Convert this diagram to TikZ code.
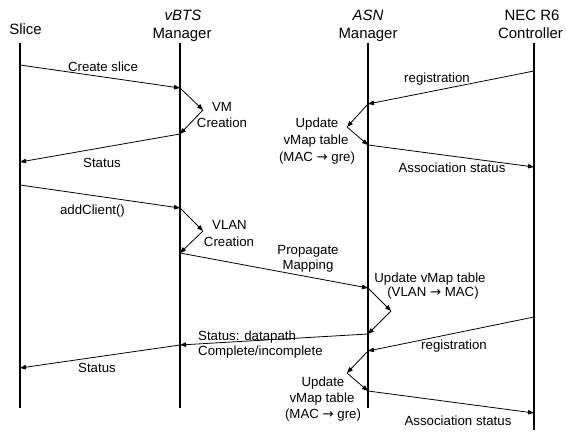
\documentclass[tikz,border=0pt]{standalone}
\usepackage{fontspec}
\setmainfont{Liberation Sans}
\newfontfamily\arrowfont{DejaVu Sans}
\usetikzlibrary{arrows.meta}
\newcommand{\toarr}{{\arrowfont\fontsize{13.3}{16}\selectfont →}}

\begin{document}
\begin{tikzpicture}[x=1bp,y=-1bp,
  lifeline/.style={line width=1.1bp},
  msg/.style={line width=0.8bp,-{Triangle[length=6bp,width=4.5bp]}},
  lbl/.style={anchor=base,inner sep=0pt,font=\fontsize{13.3}{16}\selectfont},
  lbll/.style={lbl,anchor=base west},
  hdr/.style={anchor=base,inner sep=0pt,font=\fontsize{15}{18}\selectfont}]
\useasboundingbox (0,0) rectangle (566,433);

% participants
\node[hdr] (hSlice) at (25.5,34.4) {Slice};
\node[hdr] (hVbts1) at (183,20.4) {\itshape vBTS};
\node[hdr] (hVbts2) at (182,38.4) {Manager};
\node[hdr] (hAsn1) at (368,20.4) {\itshape ASN};
\node[hdr] (hAsn2) at (368,38.4) {Manager};
\node[hdr] (hNec1) at (532,20.4) {NEC R6};
\node[hdr] (hNec2) at (530.5,38.4) {Controller};

% lifelines
\coordinate (sliceT) at (20,43);  \coordinate (sliceB) at (20,408);
\coordinate (vbtsT) at (180,43);  \coordinate (vbtsB) at (180,408);
\coordinate (asnT) at (368,43);   \coordinate (asnB) at (368,408);
\coordinate (necT) at (534,43);   \coordinate (necB) at (534,430);
\draw[lifeline] (sliceT) -- (sliceB);
\draw[lifeline] (vbtsT) -- (vbtsB);
\draw[lifeline] (asnT) -- (asnB);
\draw[lifeline] (necT) -- (necB);

% message end points
\coordinate (s1) at (20,65);   \coordinate (v1) at (180,88);
\coordinate (vm) at (203,110); \coordinate (v2) at (180,134);
\coordinate (s2) at (20,162);
\coordinate (s3) at (20,185);  \coordinate (v3) at (180,208);
\coordinate (vl) at (203,231); \coordinate (v4) at (180,253);
\coordinate (a1) at (368,288); \coordinate (um) at (391,311);
\coordinate (a2) at (368,334); \coordinate (v5) at (180,345);
\coordinate (s4) at (20,368);
\coordinate (n1) at (534,71);  \coordinate (a3) at (368,104);
\coordinate (ua) at (347,127); \coordinate (a4) at (368,145);
\coordinate (n2) at (534,167);
\coordinate (n3) at (534,317); \coordinate (a5) at (368,351);
\coordinate (ub) at (347,373); \coordinate (a6) at (368,391);
\coordinate (n4) at (534,413);

% messages
\draw[msg] (s1) -- (v1);
\draw[msg] (v1) -- (vm);
\draw[msg] (vm) -- (v2);
\draw[msg] (v2) -- (s2);
\draw[msg] (s3) -- (v3);
\draw[msg] (v3) -- (vl);
\draw[msg] (vl) -- (v4);
\draw[msg] (v4) -- (a1);
\draw[msg] (a1) -- (um);
\draw[msg] (um) -- (a2);
\draw[msg] (a2) -- (v5);
\draw[msg] (v5) -- (s4);
\draw[msg] (n1) -- (a3);
\draw[msg] (a3) -- (ua);
\draw[msg] (ua) -- (a4);
\draw[msg] (a4) -- (n2);
\draw[msg] (n3) -- (a5);
\draw[msg] (a5) -- (ub);
\draw[msg] (ub) -- (a6);
\draw[msg] (a6) -- (n4);

% labels
\node[lbl] (tCreate) at (103,71.8) {Create slice};
\node[lbl] (tVm1) at (222,111.8) {VM};
\node[lbl] (tVm2) at (222,127.8) {Creation};
\node[lbl] (tStatus1) at (102,167.8) {Status};
\node[lbl] (tAdd) at (92.5,214.8) {addClient()};
\node[lbl] (tVlan1) at (229.5,229.8) {VLAN};
\node[lbl] (tVlan2) at (229,246.8) {Creation};
\node[lbl] (tProp1) at (308,254.8) {Propagate};
\node[lbl] (tProp2) at (308,269.8) {Mapping};
\node[lbl] (tUpd1) at (430,282.8) {Update vMap table};
\node[lbl] (tUpd2) at (433,296.3) {(VLAN \toarr{} MAC)};
\node[lbll] (tDp1) at (198,340.8) {Status: datapath};
\node[lbll] (tDp2) at (198,355.8) {Complete/incomplete};
\node[lbl] (tStatus2) at (97,372.8) {Status};
\node[lbl] (tReg1) at (437,82.8) {registration};
\node[lbl] (tUa1) at (317,127.8) {Update};
\node[lbl] (tUa2) at (316,144.8) {vMap table};
\node[lbl] (tUa3) at (317,161.8) {(MAC \toarr{} gre)};
\node[lbl] (tAssoc1) at (452,172.8) {Association status};
\node[lbl] (tReg2) at (454,349.8) {registration};
\node[lbl] (tUb1) at (323,386.8) {Update};
\node[lbl] (tUb2) at (322,402.8) {vMap table};
\node[lbl] (tUb3) at (323,418.8) {(MAC \toarr{} gre)};
\node[lbl] (tAssoc2) at (458,425.8) {Association status};
\end{tikzpicture}
\end{document}
